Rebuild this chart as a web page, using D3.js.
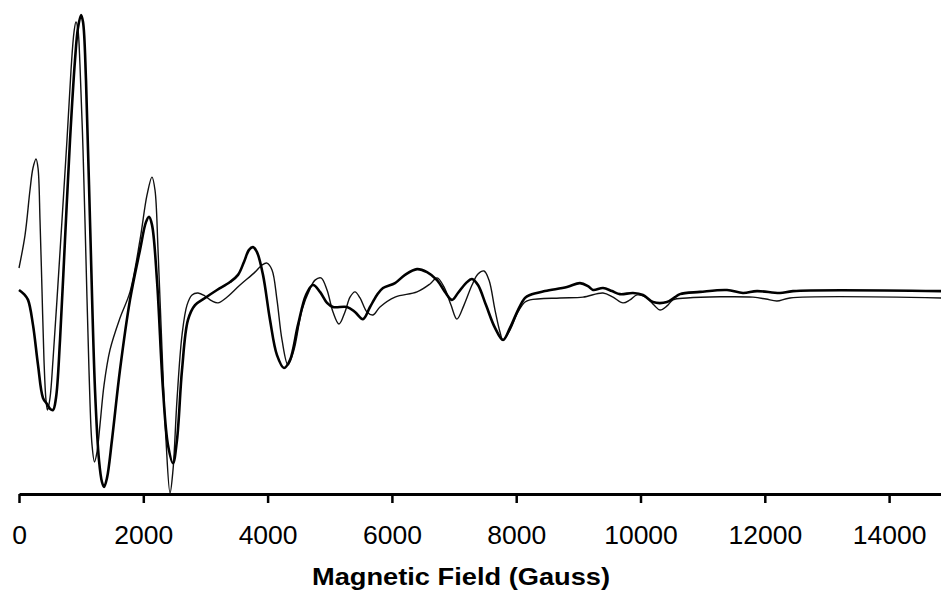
<!DOCTYPE html>
<html>
<head>
<meta charset="utf-8">
<script src="https://cdn.jsdelivr.net/npm/d3@7"></script>
<style>
    body { margin: 0; background: #fff; }
    svg { display: block; }
    .tick text { font-family: "Liberation Sans", Arial, sans-serif; font-size: 26.5px; fill: #000; }
    .axis-title { font-family: "Liberation Sans", Arial, sans-serif; font-weight: bold; font-size: 24px; }
</style>
</head>
<body>
<div id="chart"></div>
<script>
    // thin trace (simulated)
    const thinField = [0, 97, 177, 225, 274, 306, 338, 370, 402, 434, 459, 499, 547, 611, 692, 772, 837, 885, 917, 949,
        981, 1030, 1078, 1126, 1175, 1215, 1255, 1303, 1368, 1464, 1625, 1786, 1947, 2060, 2140, 2188, 2237, 2301, 2365, 2430,
        2478, 2542, 2623, 2703, 2784, 2880, 2993, 3105, 3202, 3331, 3556, 3797, 3910, 3990, 4071, 4151, 4232, 4328, 4425, 4553,
        4682, 4763, 4859, 4956, 5052, 5149, 5245, 5326, 5406, 5487, 5599, 5696, 5808, 6050, 6404, 6613, 6726, 6838, 6951, 7047,
        7160, 7289, 7385, 7482, 7562, 7659, 7739, 7788, 7900, 8029, 8142, 8222, 8705, 9075, 9397, 9557, 9718, 9831, 9944, 10105,
        10217, 10314, 10426, 10523, 10748, 11810, 12019, 12196, 12405, 14835];
    const thinSignal = [7.9, 19.9, 36.3, 44.3, 47.6, 44.3, 25.4, -0.1, -25.6, -40.1, -43.8, -39.4, -25.6, -3.7, 25.4, 54.5, 80.0, 93.8, 97.5, 94.6,
        81.8, 50.9, 10.8, -29.2, -56.5, -62.7, -59.1, -49.2, -34.7, -21.9, -10.3, -0.8, 18.1, 34.5, 41.0, 36.3, 14.5, -21.9, -54.7, -74.0,
        -65.6, -40.1, -16.5, -5.6, -1.9, -1.2, -2.3, -4.1, -4.8, -3.0, 1.7, 6.4, 9.0, 9.7, 7.2, -3.7, -18.3, -27.4, -21.9, -7.4,
        0.3, 3.5, 4.3, -0.1, -8.1, -12.5, -8.1, -2.7, -0.8, -3.0, -8.1, -9.2, -6.3, -2.7, -0.8, 2.1, 4.3, 1.0, -5.6, -10.7,
        -5.6, 1.7, 5.7, 6.8, 3.5, -7.4, -15.4, -18.3, -14.7, -8.1, -4.5, -3.7, -3.0, -2.7, -1.2, -2.7, -4.8, -3.7, -1.9, -3.0,
        -5.6, -7.4, -5.9, -3.7, -3.0, -2.7, -3.4, -4.1, -3.0, -3.0];

    // thick trace (experimental)
    const thickField = [0, 80, 145, 225, 306, 386, 451, 499, 547, 595, 660, 740, 821, 901, 949, 998, 1030, 1078, 1142, 1223,
        1287, 1335, 1368, 1416, 1496, 1625, 1786, 1947, 2043, 2092, 2140, 2220, 2317, 2397, 2478, 2542, 2623, 2719, 2832, 2993,
        3186, 3395, 3524, 3620, 3701, 3765, 3829, 3926, 4039, 4151, 4264, 4360, 4489, 4618, 4730, 4843, 4956, 5052, 5278, 5406,
        5535, 5648, 5760, 5857, 6050, 6211, 6404, 6565, 6726, 6854, 6967, 7063, 7192, 7289, 7385, 7514, 7659, 7788, 7900, 8029,
        8142, 8222, 8463, 8817, 9026, 9155, 9236, 9397, 9541, 9670, 9879, 10040, 10201, 10426, 10555, 10635, 10957, 11392, 11649, 11874,
        12244, 12454, 14835];
    const thickSignal = [-0.1, -1.6, -3.7, -12.8, -27.4, -39.4, -41.6, -43.3, -43.8, -39.4, -18.3, 18.1, 54.5, 83.6, 95.3, 100.0, 97.5, 76.3, 25.4, -36.5,
        -62.0, -70.0, -71.8, -68.5, -54.7, -29.2, -3.7, 14.5, 24.6, 26.5, 23.6, 3.5, -36.5, -56.5, -63.1, -54.7, -29.2, -11.0, -5.6, -3.0,
        -0.1, 2.8, 5.4, 10.1, 14.5, 15.5, 13.7, 5.4, -11.0, -23.8, -28.5, -25.6, -12.8, -1.9, 1.7, -0.8, -4.8, -6.3, -6.3, -8.1,
        -10.7, -6.3, -1.9, 0.6, 2.4, 5.4, 7.5, 6.4, 3.5, -0.8, -3.7, -1.2, 2.4, 3.9, 1.7, -5.6, -13.9, -18.3, -13.9, -7.4,
        -3.0, -1.9, -0.5, 1.0, 2.4, 1.3, -0.1, 0.6, -0.5, -1.6, -1.2, -1.9, -4.5, -4.5, -2.7, -1.6, -0.8, -0.1, -1.2, -0.5,
        -1.2, -0.5, -0.5];

    const fieldTicks = [0, 2000, 4000, 6000, 8000, 10000, 12000, 14000];

    const width = 941, height = 591;

    const x = d3.scaleLinear().domain([0, 14835]).range([19, 941]);
    const y = d3.scaleLinear().domain([-74, 100]).range([493, 15]);

    const svg = d3.select('#chart').append('svg')
        .attr('width', width)
        .attr('height', height);

    const line = d3.line()
        .x(d => x(d[0]))
        .y(d => y(d[1]))
        .curve(d3.curveCatmullRom.alpha(0.5));

    const thin = thinField.map((f, i) => [f, thinSignal[i]]);
    const thick = thickField.map((f, i) => [f, thickSignal[i]]);

    svg.append('path')
        .datum(thin)
        .attr('d', line)
        .attr('fill', 'none')
        .attr('stroke', '#111')
        .attr('stroke-width', 1.4);

    svg.append('path')
        .datum(thick)
        .attr('d', line)
        .attr('fill', 'none')
        .attr('stroke', '#000')
        .attr('stroke-width', 2.6);

    const axis = svg.append('g')
        .attr('transform', `translate(0,${494})`)
        .call(d3.axisBottom(x)
            .tickValues(fieldTicks)
            .tickFormat(d3.format('d'))
            .tickSize(9)
            .tickSizeOuter(0)
            .tickPadding(22));

    axis.select('.domain').attr('stroke', '#000').attr('stroke-width', 3);
    axis.selectAll('.tick line').attr('stroke', '#000').attr('stroke-width', 2.5);

    svg.append('text')
        .attr('class', 'axis-title')
        .attr('x', 312)
        .attr('y', 585)
        .attr('textLength', 298)
        .attr('lengthAdjust', 'spacingAndGlyphs')
        .text('Magnetic Field (Gauss)');
</script>
</body>
</html>
